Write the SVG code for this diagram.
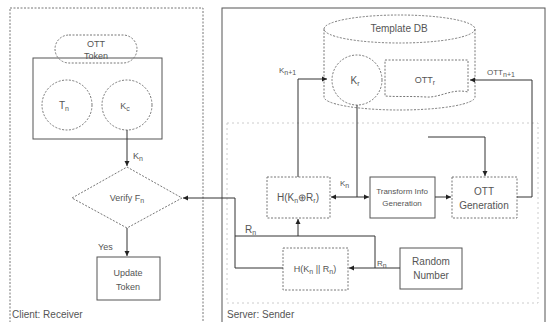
<svg xmlns="http://www.w3.org/2000/svg" width="547" height="322" viewBox="0 0 547 322">
<defs>
<marker id="arr" markerUnits="userSpaceOnUse" markerWidth="6" markerHeight="6" refX="5" refY="3" orient="auto">
<path d="M0,0.5 L5,3 L0,5.5 Z" fill="#222"/>
</marker>
<style>
text{font-family:"Liberation Sans",Arial,sans-serif;fill:#555;font-size:10px}
.c{text-anchor:middle}
.sm{font-size:8px}
.md{font-size:9px}
.sub{font-size:7px}
.dot{fill:none;stroke:#777;stroke-width:1;stroke-dasharray:2 1.5}
.sol{fill:none;stroke:#555;stroke-width:1}
.faint{fill:none;stroke:#ccc;stroke-width:1;stroke-dasharray:2 3}
.con{fill:none;stroke:#333;stroke-width:1}
</style>
</defs>
<rect width="547" height="322" fill="#fff"/>

<g id="client">
<rect x="10" y="8" width="193" height="330" class="dot"/>
<text x="12" y="318">Client: Receiver</text>
</g>
<g id="server">
<rect x="222" y="8" width="323" height="330" class="sol"/>
<rect x="227" y="123" width="311" height="180" class="faint"/>
<text x="227" y="318">Server: Sender</text>
</g>

<g id="token">
<rect x="33" y="58" width="129" height="81" class="sol"/>
<rect x="55" y="35" width="82" height="28" rx="14" ry="14" fill="#fff" class="dot"/>
<text x="96" y="47" class="c md">OTT</text>
<text x="96" y="59" class="c md">Token</text>
</g>
<g id="tn">
<circle cx="67" cy="105" r="25" class="dot"/>
<text x="64" y="109" class="c">T<tspan class="sub" dy="2">n</tspan></text>
</g>
<g id="kc">
<circle cx="127" cy="105" r="25" class="dot"/>
<text x="125" y="109" class="c md">K<tspan class="sub" dy="2">c</tspan></text>
</g>
<g id="verify">
<path d="M72,198 L127,167 L182,198 L127,228 Z" class="dot"/>
<text x="127" y="201" class="c md">Verify F<tspan class="sub" dy="2">n</tspan></text>
</g>
<g id="update">
<rect x="97" y="257" width="63" height="43" class="sol"/>
<text x="128" y="276" class="c md">Update</text>
<text x="128" y="290" class="c md">Token</text>
</g>

<g id="templatedb">
<path d="M324,29 L324,97 A75.5,13 0 0,0 475,97 L475,29" class="dot"/>
<ellipse cx="399.5" cy="29" rx="75.5" ry="14" class="dot"/>
<text x="399" y="32" class="c">Template DB</text>
</g>
<g id="kr">
<circle cx="357" cy="80" r="25" class="dot"/>
<text x="355" y="84" class="c">K<tspan class="sub" dy="2">r</tspan></text>
</g>
<g id="ottr">
<path d="M385,60 H468 V92 C452,88 440,98 426,97 C410,96 398,97 385,96 Z" class="dot"/>
<text x="425" y="83" class="c md">OTT<tspan class="sub" dy="2">r</tspan></text>
</g>
<g id="hxor">
<rect x="267" y="177" width="63" height="41" class="dot"/>
<text x="298" y="201" class="c">H(K<tspan class="sub" dy="2">n</tspan><tspan dy="-2">⊕R</tspan><tspan class="sub" dy="2">r</tspan><tspan dy="-2">)</tspan></text>
</g>
<g id="transform">
<rect x="370" y="177" width="65" height="41" class="sol"/>
<text x="402" y="194" class="c sm">Transform Info</text>
<text x="402" y="206" class="c sm">Generation</text>
</g>
<g id="ottgen">
<rect x="452" y="177" width="65" height="41" class="dot"/>
<text x="484" y="195" class="c">OTT</text>
<text x="484" y="209" class="c">Generation</text>
</g>
<g id="hcat">
<rect x="283" y="248" width="65" height="42" class="dot"/>
<text x="315" y="272" class="c md">H(K<tspan class="sub" dy="2">n</tspan><tspan dy="-2"> || R</tspan><tspan class="sub" dy="2">n</tspan><tspan dy="-2">)</tspan></text>
</g>
<g id="random">
<rect x="400" y="248" width="62" height="41" class="sol"/>
<text x="431" y="265" class="c">Random</text>
<text x="431" y="279" class="c">Number</text>
</g>

<g id="connectors">
<path d="M127,130 L127,166" class="con" marker-end="url(#arr)"/>
<text x="133" y="159" class="md">K<tspan class="sub" dy="2">n</tspan></text>
<path d="M127,228 L127,256" class="con" marker-end="url(#arr)"/>
<text x="98" y="250" class="md">Yes</text>
<path d="M283,268 L235,268 L235,198 L183,198" class="con" marker-end="url(#arr)"/>
<path d="M400,268 L349,268" class="con" marker-end="url(#arr)"/>
<path d="M375,268 L375,236 L235,236" class="con"/>
<path d="M298,236 L298,219" class="con" marker-end="url(#arr)"/>
<text x="245" y="233">R<tspan class="sub" dy="2">n</tspan></text>
<text x="377" y="266" class="sm">R<tspan class="sub" dy="2">n</tspan></text>
<path d="M298,177 L298,79 L327,79" class="con" marker-end="url(#arr)"/>
<text x="279" y="73" class="sm">K<tspan class="sub" dy="2">n+1</tspan></text>
<path d="M357,105 L357,197" class="con"/>
<path d="M357,197 L331,197" class="con" marker-end="url(#arr)"/>
<path d="M357,197 L369,197" class="con" marker-end="url(#arr)"/>
<text x="340" y="186" class="sm">K<tspan class="sub" dy="2">n</tspan></text>
<path d="M435,197 L451,197" class="con" marker-end="url(#arr)"/>
<path d="M428,137 L485,137 L485,176" class="con" marker-end="url(#arr)"/>
<path d="M517,197 L532,197 L532,80 L470,80" class="con" marker-end="url(#arr)"/>
<text x="487" y="75" class="sm">OTT<tspan class="sub" dy="2">n+1</tspan></text>
</g>
</svg>
